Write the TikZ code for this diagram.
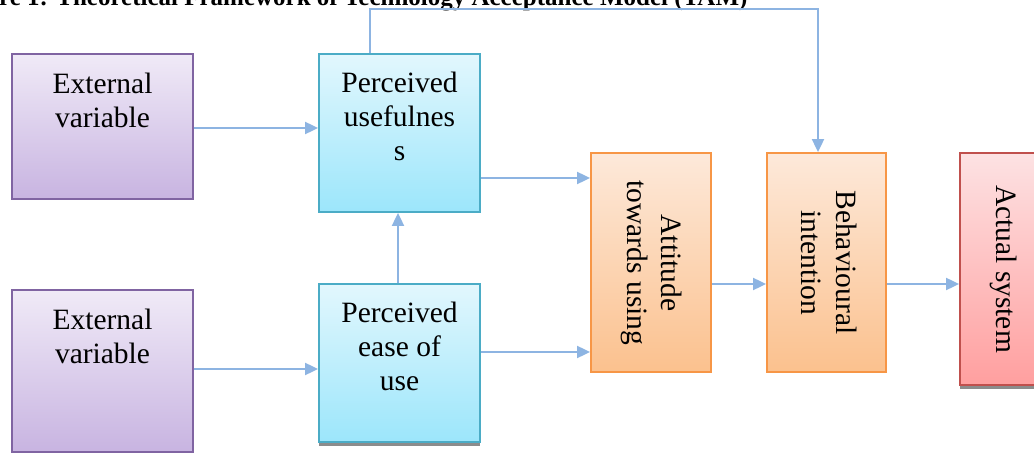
\documentclass[tikz,border=0pt]{standalone}
\usepackage{fontspec}
\setmainfont{Liberation Serif}
\usetikzlibrary{arrows.meta,calc}
\definecolor{arrc}{HTML}{8DB4E2}
\definecolor{purpB}{HTML}{8064A2}
\definecolor{purpT}{HTML}{F0EAF7}
\definecolor{purpD}{HTML}{C8B4E1}
\definecolor{cyanB}{HTML}{4BACC6}
\definecolor{cyanT}{HTML}{E2F7FD}
\definecolor{cyanD}{HTML}{9CE6FB}
\definecolor{oranB}{HTML}{F79646}
\definecolor{oranT}{HTML}{FDE9DA}
\definecolor{oranD}{HTML}{FBC18E}
\definecolor{redB}{HTML}{C0504D}
\definecolor{redT}{HTML}{FDE2E3}
\definecolor{redD}{HTML}{FF9F9F}
\tikzset{
  box/.style={rectangle, inner sep=0pt, line width=1.8pt},
  purpbox/.style={box, draw=purpB, top color=purpT, bottom color=purpD},
  cyanbox/.style={box, draw=cyanB, top color=cyanT, bottom color=cyanD},
  oranbox/.style={box, draw=oranB, top color=oranT, bottom color=oranD},
  redbox/.style={box, draw=redB, top color=redT, bottom color=redD},
  txt/.style={inner sep=0pt, align=center, font=\fontsize{29.5}{34}\selectfont},
  rtxt/.style={txt, rotate=-90},
  arr/.style={draw=arrc, line width=1.9pt, -{Triangle[length=13pt,width=12pt]}},
  shad/.style={fill=black!45, draw=none}
}
\begin{document}
\begin{tikzpicture}[x=1pt,y=-1pt]
\useasboundingbox (0,0) rectangle (1034,454);
\clip (0,0) rectangle (1034,454);
% title
\node[anchor=base west, inner sep=0pt, font=\fontsize{25}{28}\selectfont\bfseries] (title) at (-1,6) {re 1: Theoretical Framework of Technology Acceptance Model (TAM)};
% boxes
\node[purpbox, minimum width=181pt, minimum height=145pt] (ext1) at (102.5,126.5) {};
\node[purpbox, minimum width=181pt, minimum height=162pt] (ext2) at (102.5,371) {};
\fill[shad] (319,441) rectangle (480,446);
\node[cyanbox, minimum width=161pt, minimum height=158pt] (pu) at (399.5,133) {};
\node[cyanbox, minimum width=161pt, minimum height=158pt] (peou) at (399.5,363) {};
\node[oranbox, minimum width=120pt, minimum height=219pt] (att) at (651,262.5) {};
\node[oranbox, minimum width=119pt, minimum height=219pt] (bi) at (826.5,262.5) {};
\fill[shad] (960,384) rectangle (1040,389);
\node[redbox, minimum width=80pt, minimum height=232pt] (act) at (1000,269) {};
% texts
\node[txt, anchor=north] (t1) at (102.5,73) {External\\variable};
\node[txt, anchor=north] (t2) at (102.5,309) {External\\variable};
\node[txt, anchor=north] (t3) at (399.5,72) {Perceived\\usefulnes\\s};
\node[txt, anchor=north] (t4) at (399.5,302) {Perceived\\ease of\\use};
\node[rtxt] (t5) at (652,263) {Attitude\\towards using};
\node[rtxt, font=\fontsize{29.5}{35}\selectfont] (t6) at (829.5,262.5) {Behavioural\\intention};
\node[rtxt] (t7) at (1004,269) {Actual system};
% connectors
\draw[arr] (ext1.east |- 0,128) -- (pu.west |- 0,128);
\draw[arr] (ext2.east |- 0,369) -- (peou.west |- 0,369);
\draw[arr] (pu.east |- 0,178) -- (att.west |- 0,178);
\draw[arr] (peou.east |- 0,352) -- (att.west |- 0,352);
\draw[arr] ([xshift=-1.5pt]peou.north) -- ([xshift=-1.5pt]pu.south);
\draw[arr] (att.east |- 0,284) -- (bi.west |- 0,284);
\draw[arr] (bi.east |- 0,284) -- (act.west |- 0,284);
\coordinate (turn) at (818,9);
\draw[arr] ([xshift=-29.5pt]pu.north) |- (turn) -- ([xshift=-8.5pt]bi.north);
\end{tikzpicture}
\end{document}
